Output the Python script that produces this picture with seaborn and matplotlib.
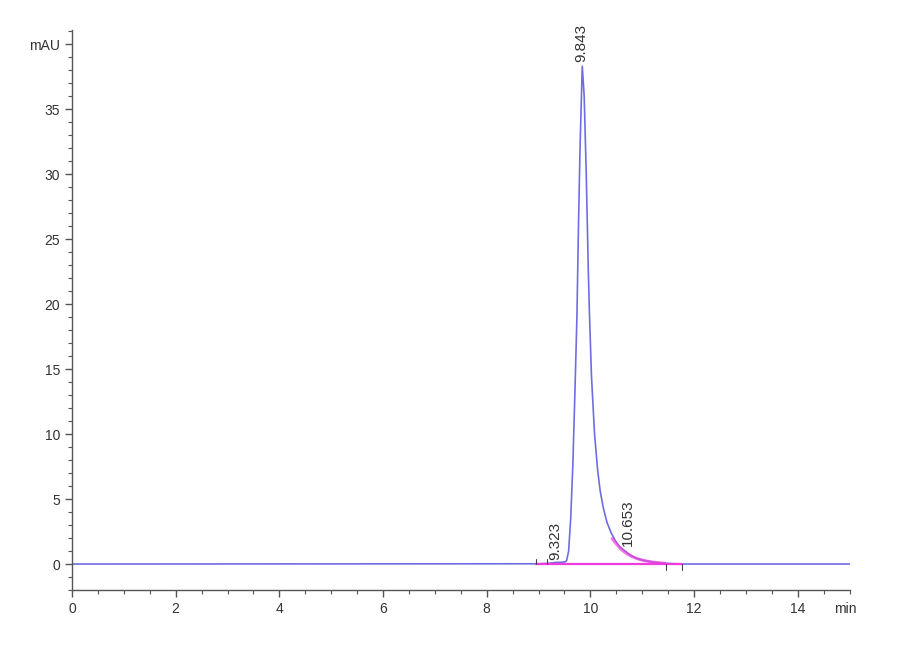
import seaborn as sns
import matplotlib.pyplot as plt
from matplotlib.ticker import MultipleLocator, FixedLocator
import pandas as pd

# Chromatogram trace (time in min, signal in mAU)
time_min = [0.0, 9.0, 9.2, 9.32, 9.45, 9.52, 9.54, 9.58, 9.62, 9.66, 9.70, 9.74,
            9.77, 9.80, 9.843, 9.88, 9.92, 9.96, 9.98, 10.02, 10.08, 10.14, 10.19,
            10.25, 10.32, 10.40, 10.48, 10.56, 10.653, 10.75, 10.87, 11.0, 11.2,
            11.4, 11.6, 11.8, 12.0, 15.0]
signal_mau = [0.0, 0.02, 0.06, 0.12, 0.14, 0.18, 0.25, 1.0, 3.5, 7.5, 13.0, 19.0,
              26.0, 32.0, 38.3, 36.0, 30.0, 22.5, 19.5, 14.5, 10.0, 7.2, 5.6,
              4.3, 3.2, 2.4, 1.8, 1.35, 1.05, 0.75, 0.46, 0.30, 0.15,
              0.07, 0.03, 0.0, 0.0, 0.0]

# Peak annotations
peak_rt = [9.323, 9.843, 10.653]
peak_label_x = [9.33, 9.83, 10.73]
peak_label_y = [0.3, 38.6, 1.4]

# Integration baseline and its start / end markers
baseline_span = [8.96, 11.77]
start_marks = [8.96, 9.17]
end_marks = [11.46, 11.77]

# Shoulder skim segment (10.653 peak)
skim_t = [10.42, 10.50, 10.60, 10.70, 10.80, 10.90, 11.00, 11.15, 11.30, 11.45]
skim_v = [1.95, 1.55, 1.10, 0.80, 0.58, 0.42, 0.30, 0.18, 0.10, 0.05]

df = pd.DataFrame({'Time (min)': time_min, 'Signal (mAU)': signal_mau})
skim = pd.DataFrame({'t': skim_t, 'v': skim_v})

sns.set_style("ticks")
plt.rcParams['font.family'] = ['Liberation Sans Narrow', 'Liberation Sans', 'DejaVu Sans']

fig = plt.figure(figsize=(9, 6.6), dpi=100)
ax = fig.add_axes([0.08, 0.106, 0.864, 0.849])

sns.lineplot(data=df, x='Time (min)', y='Signal (mAU)', ax=ax,
             color='#4a4adb', linewidth=1.2, alpha=0.8)

# magenta integration baseline and skim
ax.plot(baseline_span, [0, 0], color='#f03cdc', linewidth=1.6, zorder=3)
sns.lineplot(data=skim, x='t', y='v', ax=ax, color='#f03cdc',
             linewidth=2.2, alpha=0.7, zorder=2)

for t in start_marks:
    ax.plot([t, t], [0, 0.35], color='#444444', linewidth=0.8, zorder=4)
for t in end_marks:
    ax.plot([t, t], [0, -0.45], color='#444444', linewidth=0.8, zorder=4)

for rt, lx, ly in zip(peak_rt, peak_label_x, peak_label_y):
    ax.text(lx, ly, f'{rt:.3f}', rotation=90, ha='center', va='bottom',
            fontsize=11, color='#333333')

ax.set_xlim(0, 15)
ax.set_ylim(-2, 41.1)

ax.xaxis.set_major_locator(FixedLocator([0, 2, 4, 6, 8, 10, 12, 14]))
ax.xaxis.set_minor_locator(MultipleLocator(0.5))
ax.yaxis.set_major_locator(FixedLocator([0, 5, 10, 15, 20, 25, 30, 35, 40]))
ax.yaxis.set_minor_locator(MultipleLocator(1))
ax.set_yticklabels(['0', '5', '10', '15', '20', '25', '30', '35', 'mAU'])

ax.tick_params(which='major', length=5, width=1, color='#555555',
               labelsize=10, labelcolor='#333333', direction='out')
ax.tick_params(which='minor', length=3, width=0.8, color='#555555',
               direction='out')

ax.text(14.92, -2.9, 'min', ha='center', va='top', fontsize=10, color='#333333')

ax.set_xlabel('')
ax.set_ylabel('')
sns.despine(ax=ax)
for s in ['left', 'bottom']:
    ax.spines[s].set_color('#555555')
    ax.spines[s].set_linewidth(1.0)

plt.savefig('out.png', dpi=100)
